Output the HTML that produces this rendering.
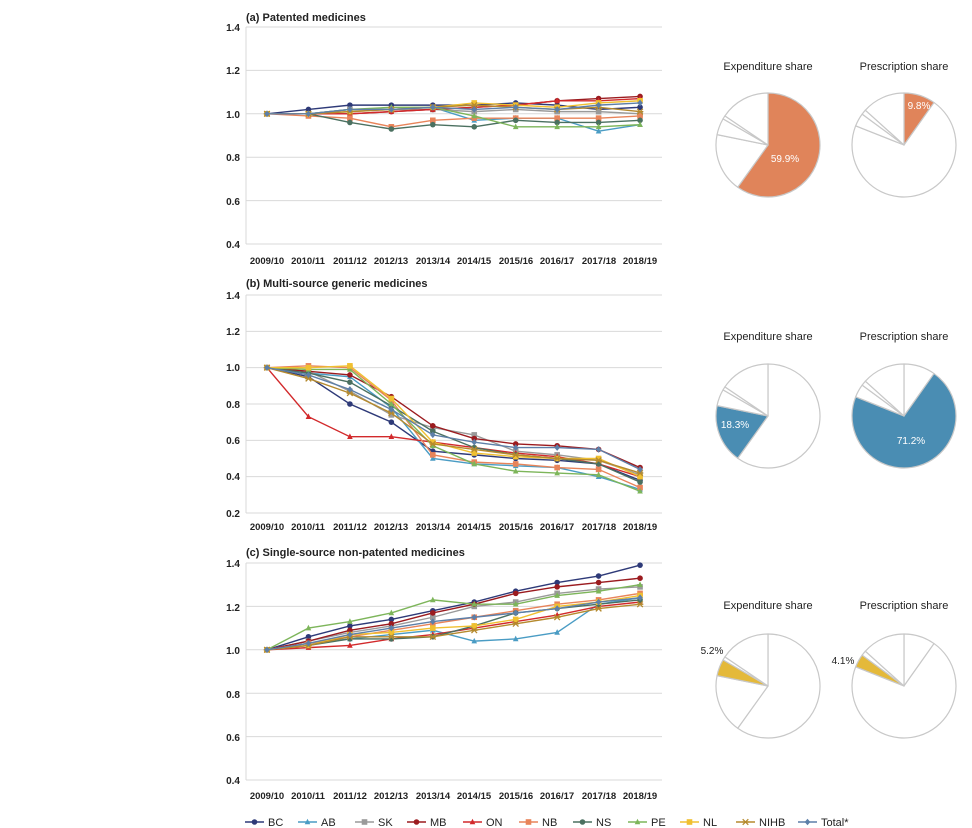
<!DOCTYPE html>
<html><head><meta charset="utf-8">
<style>
html,body{margin:0;padding:0;background:#fff;}
svg{display:block;font-family:"Liberation Sans","DejaVu Sans",sans-serif;}
.t{font-size:11px;font-weight:bold;fill:#222;}
.yl{font-size:10px;fill:#222;text-anchor:end;font-weight:bold;}
.xl{font-size:9.5px;fill:#222;text-anchor:middle;font-weight:bold;}
.pt{font-size:11px;fill:#222;text-anchor:middle;}
.lg{font-size:11px;fill:#222;}
</style></head><body>
<svg id="s" width="972" height="828" viewBox="0 0 972 828" xmlns="http://www.w3.org/2000/svg">
<rect width="972" height="828" fill="#fff"/>
<g id="grid"></g>
<text class="t" x="246" y="21">(a) Patented medicines</text>
<text class="t" x="246" y="287">(b) Multi-source generic medicines</text>
<text class="t" x="246" y="556">(c) Single-source non-patented medicines</text>
<!-- y labels a -->
<text class="yl" x="240" y="31">1.4</text><text class="yl" x="240" y="74">1.2</text><text class="yl" x="240" y="118">1.0</text><text class="yl" x="240" y="161">0.8</text><text class="yl" x="240" y="205">0.6</text><text class="yl" x="240" y="248">0.4</text>
<!-- b -->
<text class="yl" x="240" y="299">1.4</text><text class="yl" x="240" y="335">1.2</text><text class="yl" x="240" y="371">1.0</text><text class="yl" x="240" y="408">0.8</text><text class="yl" x="240" y="444">0.6</text><text class="yl" x="240" y="480">0.4</text><text class="yl" x="240" y="517">0.2</text>
<!-- c -->
<text class="yl" x="240" y="567">1.4</text><text class="yl" x="240" y="611">1.2</text><text class="yl" x="240" y="654">1.0</text><text class="yl" x="240" y="698">0.8</text><text class="yl" x="240" y="741">0.6</text><text class="yl" x="240" y="784">0.4</text>
<g id="xa">
<text class="xl" x="267" y="264">2009/10</text><text class="xl" x="308" y="264">2010/11</text><text class="xl" x="350" y="264">2011/12</text><text class="xl" x="391" y="264">2012/13</text><text class="xl" x="433" y="264">2013/14</text><text class="xl" x="474" y="264">2014/15</text><text class="xl" x="516" y="264">2015/16</text><text class="xl" x="557" y="264">2016/17</text><text class="xl" x="599" y="264">2017/18</text><text class="xl" x="640" y="264">2018/19</text>
</g>
<g>
<text class="xl" x="267" y="530">2009/10</text><text class="xl" x="308" y="530">2010/11</text><text class="xl" x="350" y="530">2011/12</text><text class="xl" x="391" y="530">2012/13</text><text class="xl" x="433" y="530">2013/14</text><text class="xl" x="474" y="530">2014/15</text><text class="xl" x="516" y="530">2015/16</text><text class="xl" x="557" y="530">2016/17</text><text class="xl" x="599" y="530">2017/18</text><text class="xl" x="640" y="530">2018/19</text>
</g>
<g>
<text class="xl" x="267" y="799">2009/10</text><text class="xl" x="308" y="799">2010/11</text><text class="xl" x="350" y="799">2011/12</text><text class="xl" x="391" y="799">2012/13</text><text class="xl" x="433" y="799">2013/14</text><text class="xl" x="474" y="799">2014/15</text><text class="xl" x="516" y="799">2015/16</text><text class="xl" x="557" y="799">2016/17</text><text class="xl" x="599" y="799">2017/18</text><text class="xl" x="640" y="799">2018/19</text>
</g>
<g id="series"></g>
<g id="pies"></g>
<text class="pt" x="768" y="70">Expenditure share</text>
<text class="pt" x="904" y="70">Prescription share</text>
<text class="pt" x="768" y="340">Expenditure share</text>
<text class="pt" x="904" y="340">Prescription share</text>
<text class="pt" x="768" y="609">Expenditure share</text>
<text class="pt" x="904" y="609">Prescription share</text>
<g id="pl"></g>
<text x="785" y="162" font-size="10" fill="#fff" text-anchor="middle">59.9%</text>
<text x="919" y="109" font-size="10" fill="#fff" text-anchor="middle">9.8%</text>
<text x="735" y="428" font-size="10" fill="#fff" text-anchor="middle">18.3%</text>
<text x="911" y="444" font-size="10" fill="#fff" text-anchor="middle">71.2%</text>
<text x="712" y="654" font-size="10" fill="#222" text-anchor="middle">5.2%</text>
<text x="843" y="664" font-size="10" fill="#222" text-anchor="middle">4.1%</text>
<g id="legend"></g>
<text class="lg" x="268" y="826">BC</text>
<text class="lg" x="321" y="826">AB</text>
<text class="lg" x="378" y="826">SK</text>
<text class="lg" x="430" y="826">MB</text>
<text class="lg" x="486" y="826">ON</text>
<text class="lg" x="542" y="826">NB</text>
<text class="lg" x="596" y="826">NS</text>
<text class="lg" x="651" y="826">PE</text>
<text class="lg" x="703" y="826">NL</text>
<text class="lg" x="759" y="826">NIHB</text>
<text class="lg" x="821" y="826">Total*</text>
</svg>
<script>
var NS="http://www.w3.org/2000/svg";
function el(p,t,a){var e=document.createElementNS(NS,t);for(var k in a)e.setAttribute(k,a[k]);p.appendChild(e);return e;}
var grid=document.getElementById('grid');
var panels=[
 {top:27,bot:244,min:0.4,max:1.4},
 {top:295,bot:513,min:0.2,max:1.4},
 {top:563,bot:780,min:0.4,max:1.4}];
panels.forEach(function(p){
 for(var v=p.min;v<=p.max+1e-6;v+=0.2){var y=p.bot-(v-p.min)/(p.max-p.min)*(p.bot-p.top);
  el(grid,'line',{x1:246,x2:662,y1:y,y2:y,stroke:'#d9d9d9','stroke-width':1});}
 el(grid,'line',{x1:246,x2:246,y1:p.top,y2:p.bot,stroke:'#d9d9d9','stroke-width':1});
});
var S=[
 ['BC','#2e3a78','c'],['AB','#4a9cc4','t'],['SK','#9a9a9a','s'],['MB','#9b1b1f','c'],['ON','#d2292b','t'],
 ['NB','#e8845a','s'],['NS','#4b7060','c'],['PE','#7db55a','t'],['NL','#f0c030','s'],['NIHB','#b58a2e','x'],['Total','#5d7fa8','d']];
var D=[
 [[1,1.02,1.04,1.04,1.04,1.04,1.05,1.04,1.02,1.03],
  [1,1,1.02,1.02,1.03,0.97,0.98,0.98,0.92,0.95],
  [1,1,1.02,1.02,1.02,1.01,1.02,1.01,1.01,1.00],
  [1,1,1,1.01,1.02,1.03,1.04,1.06,1.07,1.08],
  [1,1,1,1.01,1.02,1.03,1.04,1.06,1.06,1.07],
  [1,0.99,0.98,0.94,0.97,0.98,0.98,0.98,0.98,0.99],
  [1,1,0.96,0.93,0.95,0.94,0.97,0.96,0.96,0.97],
  [1,1,1.02,1.03,1.03,0.99,0.94,0.94,0.94,0.95],
  [1,1,1.01,1.02,1.03,1.05,1.04,1.03,1.05,1.06],
  [1,1,1.01,1.02,1.03,1.04,1.03,1.02,1.03,1.01],
  [1,1,1.02,1.02,1.03,1.02,1.03,1.02,1.04,1.05]],
 [[1,0.95,0.80,0.70,0.54,0.52,0.50,0.49,0.47,0.38],
  [1,0.97,0.95,0.78,0.50,0.47,0.46,0.45,0.40,0.33],
  [1,0.98,0.87,0.74,0.67,0.63,0.54,0.52,0.49,0.41],
  [1,0.98,0.96,0.84,0.68,0.61,0.58,0.57,0.55,0.45],
  [1,0.73,0.62,0.62,0.59,0.56,0.53,0.51,0.47,0.40],
  [1,1.01,1.00,0.82,0.52,0.48,0.47,0.45,0.44,0.34],
  [1,0.97,0.92,0.79,0.65,0.56,0.52,0.50,0.47,0.37],
  [1,0.99,0.99,0.80,0.57,0.47,0.43,0.42,0.41,0.32],
  [1,1.00,1.01,0.83,0.59,0.53,0.51,0.50,0.50,0.40],
  [1,0.94,0.86,0.75,0.58,0.55,0.52,0.50,0.49,0.42],
  [1,0.96,0.88,0.77,0.63,0.59,0.56,0.56,0.55,0.44]],
 [[1,1.06,1.11,1.14,1.18,1.22,1.27,1.31,1.34,1.39],
  [1,1.03,1.05,1.07,1.09,1.04,1.05,1.08,1.21,1.24],
  [1,1.04,1.08,1.11,1.15,1.20,1.22,1.26,1.28,1.29],
  [1,1.04,1.09,1.12,1.17,1.21,1.26,1.29,1.31,1.33],
  [1,1.01,1.02,1.05,1.07,1.10,1.13,1.16,1.20,1.22],
  [1,1.03,1.06,1.09,1.12,1.15,1.18,1.21,1.23,1.26],
  [1,1.02,1.05,1.05,1.06,1.11,1.17,1.19,1.21,1.23],
  [1,1.10,1.13,1.17,1.23,1.21,1.21,1.25,1.27,1.30],
  [1,1.02,1.07,1.08,1.10,1.11,1.14,1.20,1.22,1.25],
  [1,1.02,1.06,1.06,1.06,1.09,1.12,1.15,1.19,1.21],
  [1,1.03,1.07,1.10,1.13,1.15,1.17,1.19,1.22,1.24]]];
var g=document.getElementById('series');
function marker(p,sh,x,y,c,r){
 r=r||2.8;
 if(sh=='c')el(p,'circle',{cx:x,cy:y,r:r,fill:c});
 else if(sh=='s')el(p,'rect',{x:x-r,y:y-r,width:2*r,height:2*r,fill:c});
 else if(sh=='t')el(p,'polygon',{points:(x)+','+(y-r-0.5)+' '+(x-r)+','+(y+r-0.5)+' '+(x+r)+','+(y+r-0.5),fill:c});
 else if(sh=='d')el(p,'polygon',{points:x+','+(y-r-0.5)+' '+(x+r)+','+y+' '+x+','+(y+r+0.5)+' '+(x-r)+','+y,fill:c});
 else if(sh=='x'){el(p,'path',{d:'M'+(x-r)+' '+(y-r)+'L'+(x+r)+' '+(y+r)+'M'+(x-r)+' '+(y+r)+'L'+(x+r)+' '+(y-r)+'M'+(x-r-0.5)+' '+y+'L'+(x+r+0.5)+' '+y,stroke:c,'stroke-width':1.3});}
}
D.forEach(function(ser,pi){
 var p=panels[pi];
 ser.forEach(function(vals,si){
  var c=S[si][1],pts=vals.map(function(v,i){return [267+i*41.45,p.bot-(v-p.min)/(p.max-p.min)*(p.bot-p.top)];});
  el(g,'polyline',{points:pts.map(function(q){return q.join(',')}).join(' '),fill:'none',stroke:c,'stroke-width':1.4});
  pts.forEach(function(q){marker(g,S[si][2],q[0],q[1],c);});
 });
});
// pies
var pg=document.getElementById('pies');
function pt(cx,cy,r,a){a=a*Math.PI/180;return [cx+r*Math.sin(a),cy-r*Math.cos(a)];}
function wedge(cx,cy,r,a0,a1,fill){
 var p0=pt(cx,cy,r,a0),p1=pt(cx,cy,r,a1),large=(a1-a0)>180?1:0;
 el(pg,'path',{d:'M'+cx+' '+cy+'L'+p0[0]+' '+p0[1]+'A'+r+' '+r+' 0 '+large+' 1 '+p1[0]+' '+p1[1]+'Z',fill:fill,stroke:'#c8c8c8','stroke-width':1.2,'stroke-linejoin':'round'});
}
var exp=[0,215.6,281.5,300.2,304,360], pre=[0,35.3,291.6,306.4,312,360];
var cols=['#e0845a','#4a8db3','#e4b93a'];
[[145,0],[416,1],[686,2]].forEach(function(r){
 var cy=r[0],k=r[1];
 [[768,exp],[904,pre]].forEach(function(q){
  var b=q[1];
  for(var i=0;i<5;i++)wedge(q[0],cy,52,b[i],b[i+1],i==k?cols[k]:'#fff');
 });
});
// legend
var lg=document.getElementById('legend');
var lx=[245,298,355,407,463,519,573,628,680,736,798];
S.forEach(function(s,i){el(lg,'line',{x1:lx[i],x2:lx[i]+19,y1:822,y2:822,stroke:s[1],'stroke-width':1.6});marker(lg,s[2],lx[i]+9.5,822,s[1],2.8);});
</script>
</body></html>
